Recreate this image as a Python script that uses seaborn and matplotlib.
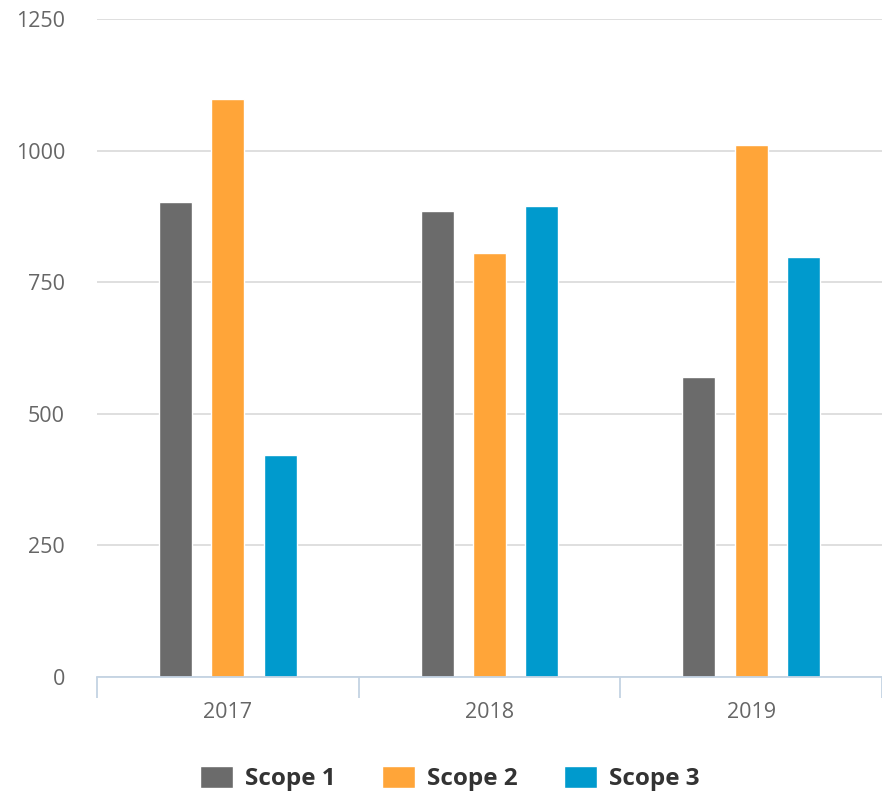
import pandas as pd
import matplotlib.pyplot as plt
import seaborn as sns

years = ["2017", "2018", "2019"]
scopes = ["Scope 1", "Scope 2", "Scope 3"]
scope1 = [902, 886, 570]
scope2 = [1098, 806, 1011]
scope3 = [422, 894, 798]

colors = ["#6b6b6b", "#ffa539", "#009acd"]

df = pd.DataFrame({
    "year": years * 3,
    "scope": [s for s in scopes for _ in years],
    "value": scope1 + scope2 + scope3,
})

sns.set_style("white")
plt.rcParams["font.family"] = ["Open Sans", "DejaVu Sans"]

fig = plt.figure(figsize=(8.82, 7.96), dpi=100)
ax = fig.add_axes([0.11, 0.1495, 0.89, 0.8265])

sns.barplot(data=df, x="year", y="value", hue="scope", palette=colors,
            width=0.6, gap=0.37, ax=ax, legend=True, saturation=1)

ax.set_ylim(0, 1250)
ax.set_xlim(-0.5, 2.485)
ax.set_yticks([0, 250, 500, 750, 1000, 1250])
ax.yaxis.grid(True, color="#d9d9d9", linewidth=1.2)
ax.set_axisbelow(True)
ax.set_xlabel("")
ax.set_ylabel("")

for s in ["top", "right", "left"]:
    ax.spines[s].set_visible(False)
ax.spines["bottom"].set_color("#c4d3e3")
ax.spines["bottom"].set_linewidth(1.3)

ax.tick_params(axis="y", length=0, labelsize=15.5, labelcolor="#666666", pad=23)
ax.tick_params(axis="x", which="major", length=0, labelsize=15.5, labelcolor="#666666", pad=18)
ax.set_xticks([-0.5, 0.5, 1.5, 2.5], minor=True)
ax.tick_params(axis="x", which="minor", bottom=True, length=15, width=1.3,
               color="#c4d3e3", direction="out")

ax.legend_.remove()
handles, labels = ax.get_legend_handles_labels()
leg = fig.legend(handles, labels, loc="center", bbox_to_anchor=(0.51, 0.022), ncol=3,
                 frameon=False, handlelength=1.35, handleheight=1.0, handletextpad=0.5,
                 columnspacing=1.9, prop={"weight": "bold", "size": 17.5})
for t in leg.get_texts():
    t.set_color("#333333")

fig.savefig("out.png", dpi=100)
